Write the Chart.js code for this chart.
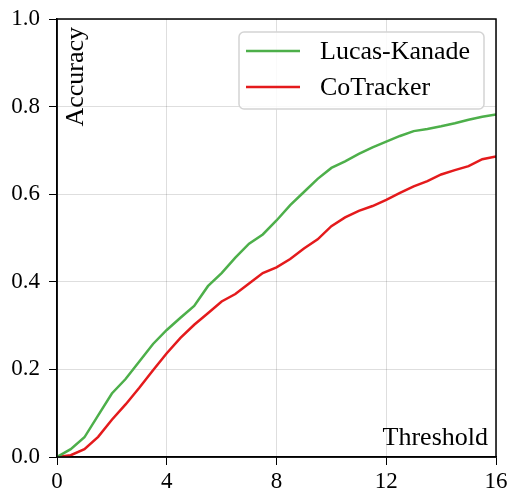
<!DOCTYPE html>
<html>
<head>
<meta charset="utf-8">
<script src="https://cdn.jsdelivr.net/npm/chart.js@4/dist/chart.umd.min.js"></script>
<style>
  html, body { margin: 0; padding: 0; background: #fff; }
  #wrap { width: 509px; height: 489px; }
</style>
</head>
<body>
<div id="wrap"><canvas id="accChart" width="509" height="489"></canvas></div>
<script>
// thresholds (px) and accuracy
const thresholds = [0, 0.5, 1, 1.5, 2, 2.5, 3, 3.5, 4, 4.5, 5, 5.5, 6, 6.5, 7, 7.5, 8,
  8.5, 9, 9.5, 10, 10.5, 11, 11.5, 12, 12.5, 13, 13.5, 14, 14.5, 15, 15.5, 16];
const lucasKanade = [0, 0.018, 0.045, 0.095, 0.145, 0.178, 0.218, 0.258, 0.29, 0.318, 0.345,
  0.39, 0.42, 0.455, 0.487, 0.508, 0.54, 0.575, 0.605, 0.635, 0.66, 0.675, 0.692, 0.707,
  0.72, 0.733, 0.744, 0.749, 0.755, 0.762, 0.77, 0.777, 0.782];
const coTracker = [0, 0.004, 0.018, 0.046, 0.085, 0.12, 0.158, 0.198, 0.237, 0.272, 0.302,
  0.328, 0.355, 0.372, 0.396, 0.42, 0.433, 0.452, 0.476, 0.497, 0.527, 0.547, 0.562, 0.573,
  0.587, 0.603, 0.618, 0.63, 0.645, 0.655, 0.664, 0.68, 0.686];
const seriesNames = ["Lucas-Kanade", "CoTracker"];
const seriesColors = ["#4daf4a", "#e41a1c"];
const xTicks = [0, 4, 8, 12, 16];
const yTicks = [0, 0.2, 0.4, 0.6, 0.8, 1.0];

const FONT = "'Liberation Serif', 'Times New Roman', serif";
const toPts = vals => thresholds.map((t, i) => ({ x: t, y: vals[i] }));

// box + labels drawn inside the plot, matplotlib-style
const decor = {
  id: 'decor',
  afterDraw(chart) {
    const { ctx, chartArea: a } = chart;
    ctx.save();
    // top/right spines
    ctx.strokeStyle = '#000';
    ctx.lineWidth = 1.5;
    ctx.strokeRect(a.left, a.top, a.right - a.left, a.bottom - a.top);

    // axis titles inside the plot
    ctx.fillStyle = '#000';
    ctx.font = '26px ' + FONT;
    ctx.textAlign = 'right';
    ctx.textBaseline = 'alphabetic';
    ctx.fillText('Threshold', a.right - 8, a.bottom - 12);
    ctx.save();
    ctx.translate(a.left + 26, a.top + 8);
    ctx.rotate(-Math.PI / 2);
    ctx.fillText('Accuracy', 0, 0);
    ctx.restore();

    // legend
    const bx = 239, by = 32, bw = 245, bh = 77, r = 5;
    ctx.beginPath();
    ctx.roundRect(bx, by, bw, bh, r);
    ctx.fillStyle = 'rgba(255,255,255,0.85)';
    ctx.fill();
    ctx.strokeStyle = '#d4d4d4';
    ctx.lineWidth = 1.5;
    ctx.stroke();
    ctx.font = '26px ' + FONT;
    ctx.textAlign = 'left';
    ctx.textBaseline = 'middle';
    seriesNames.forEach((name, i) => {
      const y = by + 19 + i * 36;
      ctx.strokeStyle = seriesColors[i];
      ctx.lineWidth = 2.5;
      ctx.beginPath();
      ctx.moveTo(bx + 7, y);
      ctx.lineTo(bx + 61, y);
      ctx.stroke();
      ctx.fillStyle = '#000';
      ctx.fillText(name, bx + 81, y + 1);
    });
    ctx.restore();
  }
};

new Chart(document.getElementById('accChart'), {
  type: 'line',
  data: {
    datasets: [
      { label: seriesNames[0], data: toPts(lucasKanade), borderColor: seriesColors[0] },
      { label: seriesNames[1], data: toPts(coTracker), borderColor: seriesColors[1] }
    ]
  },
  options: {
    responsive: false,
    animation: false,
    layout: { padding: { top: 19, right: 13, left: 0, bottom: 0 } },
    elements: {
      point: { radius: 0 },
      line: { borderWidth: 2.5, tension: 0, fill: false }
    },
    plugins: { legend: { display: false }, tooltip: { enabled: false } },
    scales: {
      x: {
        type: 'linear',
        min: 0, max: 16,
        afterFit: s => { s.height = 32; s.paddingLeft = 0; s.paddingRight = 0; },
        afterBuildTicks: s => { s.ticks = xTicks.map(v => ({ value: v })); },
        grid: { color: 'rgba(0,0,0,0.13)', tickColor: '#000', tickLength: 8, lineWidth: 1 },
        border: { color: '#000', width: 1.5 },
        ticks: { color: '#000', font: { family: FONT, size: 23 }, padding: 3, maxRotation: 0 }
      },
      y: {
        min: 0, max: 1,
        afterFit: s => { s.width = 57; s.paddingTop = 0; s.paddingBottom = 0; },
        afterBuildTicks: s => { s.ticks = yTicks.map(v => ({ value: v })); },
        grid: { color: 'rgba(0,0,0,0.13)', tickColor: '#000', tickLength: 8, lineWidth: 1 },
        border: { color: '#000', width: 1.5 },
        ticks: { color: '#000', font: { family: FONT, size: 23 }, padding: 9,
          callback: v => v.toFixed(1) }
      }
    }
  },
  plugins: [decor]
});
</script>
</body>
</html>
